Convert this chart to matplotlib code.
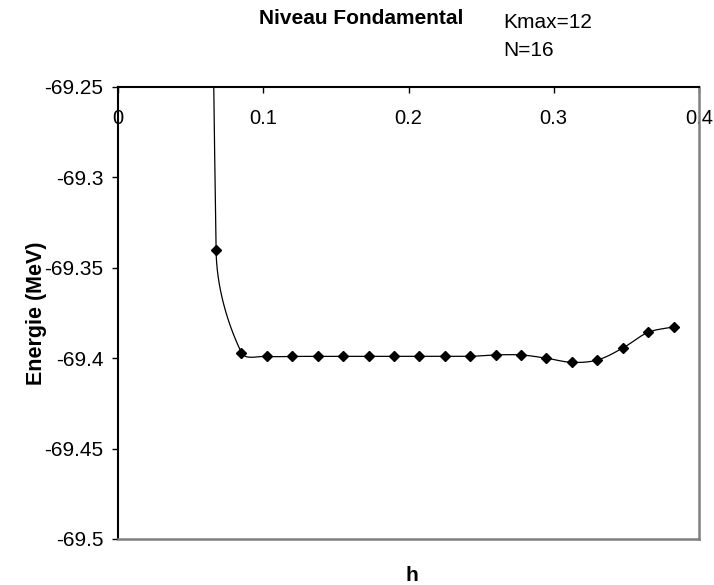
import numpy as np
import matplotlib
matplotlib.use('Agg')
import matplotlib.pyplot as plt
from matplotlib.ticker import FuncFormatter

plt.rcParams['font.family'] = ['Liberation Sans', 'DejaVu Sans']
plt.rcParams['axes.unicode_minus'] = False

# ---------------------------------------------------------------
# Niveau fondamental, Kmax=12, N=16 : énergie en fonction du pas h
# (le premier point sort du cadre par le haut)
# ---------------------------------------------------------------
h = [0.05, 0.0675, 0.085, 0.1025, 0.12, 0.1375, 0.155, 0.1725, 0.19,
     0.2075, 0.225, 0.2425, 0.26, 0.2775, 0.295, 0.3125, 0.33, 0.3475,
     0.365, 0.3825]
energie = [-67.5, -69.340, -69.397, -69.399, -69.399, -69.399, -69.399,
           -69.399, -69.399, -69.399, -69.399, -69.399, -69.3982, -69.3982,
           -69.400, -69.4023, -69.401, -69.3944, -69.3857, -69.3827]

xlim = (0.0, 0.4)
ylim = (-69.5, -69.25)
yticks = [-69.5, -69.45, -69.4, -69.35, -69.3, -69.25]
xticks = [0, 0.1, 0.2, 0.3, 0.4]


def lisse(x, y, sx, sy, npts=60):
    """Courbe de Bézier par morceaux (lissage type tableur).
    Les poignées suivent P[i+1]-P[i-1], longueur = 1/3 du segment,
    calculées dans l'espace écran (sx, sy px par unité)."""
    P = np.column_stack([np.asarray(x) * sx, np.asarray(y) * sy])
    n = len(P)

    def tangente(i):
        a = P[max(i - 1, 0)]
        b = P[min(i + 1, n - 1)]
        d = b - a
        return d / np.hypot(*d)

    out = []
    for i in range(n - 1):
        p0, p3 = P[i], P[i + 1]
        L = np.hypot(*(p3 - p0))
        c1 = p0 + tangente(i) * L / 3
        c2 = p3 - tangente(i + 1) * L / 3
        m = npts * 6 if i == 0 else npts
        t = np.linspace(0, 1, m)[:, None]
        seg = ((1 - t) ** 3 * p0 + 3 * (1 - t) ** 2 * t * c1
               + 3 * (1 - t) * t ** 2 * c2 + t ** 3 * p3)
        out.append(seg if i == 0 else seg[1:])
    out = np.vstack(out)
    return out[:, 0] / sx, out[:, 1] / sy


fig = plt.figure(figsize=(7.14, 5.85), dpi=100)
pos = [118 / 714, 46 / 585, 581 / 714, 452 / 585]
ax = fig.add_axes(pos)

# échelle écran pour le lissage
W = pos[2] * 714
H = pos[3] * 585
sx = W / (xlim[1] - xlim[0])
sy = H / (ylim[1] - ylim[0])
xs, ys = lisse(h, energie, sx, sy)

ax.plot(xs, ys, color='black', linewidth=0.9, zorder=2)
ax.plot(h, energie, linestyle='none', marker='D', markersize=5,
        color='black', zorder=3)

ax.set_xlim(*xlim)
ax.set_ylim(*ylim)
ax.set_xticks(xticks)
ax.set_yticks(yticks)

fmt = FuncFormatter(lambda v, pos: f'{v:g}')
ax.xaxis.set_major_formatter(fmt)
ax.yaxis.set_major_formatter(fmt)

# axe des h en haut (croise à -69.25), étiquettes sous la ligne
ax.tick_params(axis='x', top=True, bottom=False, labeltop=True,
               labelbottom=False, direction='in', length=4.5, width=1,
               pad=-29.5, labelsize=14.5)
ax.tick_params(axis='y', direction='out', length=4.5, width=1,
               pad=6, labelsize=15)

for side in ('left', 'top'):
    ax.spines[side].set_color('black')
    ax.spines[side].set_linewidth(1.5)
for side in ('right', 'bottom'):
    ax.spines[side].set_color('#808080')
    ax.spines[side].set_linewidth(1.8)

ax.set_xlabel('h', fontsize=15, fontweight='bold')
ax.xaxis.set_label_coords(0.505, -0.08)
ax.xaxis.label.set_va('center')
ax.set_ylabel('Energie (MeV)', fontsize=15.5, fontweight='bold')
ax.yaxis.set_label_coords(-0.14, 0.5)
ax.yaxis.label.set_va('center')

fig.text(361 / 714, 1 - 18 / 585, 'Niveau Fondamental', fontsize=15,
         fontweight='bold', ha='center', va='center')
fig.text(503 / 714, 1 - 23 / 585, 'Kmax=12', fontsize=15,
         ha='left', va='center')
fig.text(503 / 714, 1 - 50 / 585, 'N=16', fontsize=15,
         ha='left', va='center')

fig.savefig('out.png', dpi=100)
